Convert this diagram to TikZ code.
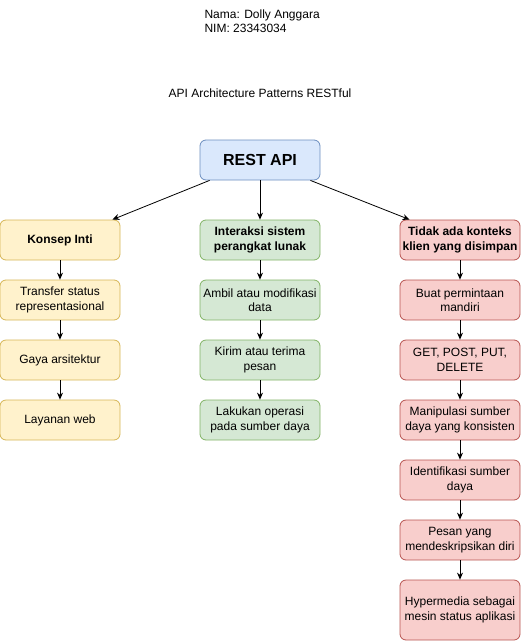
\documentclass[tikz,border=0pt]{standalone}
\usepackage{fontspec}
\setmainfont{Liberation Sans}
\usetikzlibrary{arrows.meta}
\definecolor{ylwfill}{HTML}{FFF2CC}
\definecolor{ylwline}{HTML}{D6B656}
\definecolor{grnfill}{HTML}{D5E8D4}
\definecolor{grnline}{HTML}{82B366}
\definecolor{redfill}{HTML}{F8CECC}
\definecolor{redline}{HTML}{B85450}
\definecolor{blufill}{HTML}{DAE8FC}
\definecolor{bluline}{HTML}{6C8EBF}
\begin{document}
\begin{tikzpicture}[x=1pt,y=-1pt,
	box/.style={rounded corners=6pt,line width=0.8pt,minimum width=120pt,minimum height=40pt,
		align=center,inner sep=1pt,font=\fontsize{12}{14.5}\selectfont},
	ylw/.style={box,draw=ylwline,fill=ylwfill},
	grn/.style={box,draw=grnline,fill=grnfill},
	red/.style={box,draw=redline,fill=redfill},
	arr/.style={-{Stealth[length=7pt,width=6pt]},line width=0.8pt}]
	\useasboundingbox (0,0) rectangle (522,641);
	\node[anchor=west,align=left,font=\fontsize{12}{14}\selectfont] (nama) at (201,21) {Nama: Dolly Anggara\\NIM: 23343034};
	\node[font=\fontsize{12}{14}\selectfont] (judul) at (260,93) {API Architecture Patterns RESTful};
	\node[box,draw=bluline,fill=blufill,font=\fontsize{16}{18}\selectfont\bfseries] (rest) at (260,160) {REST API};
	% kolom kiri
	\node[ylw,font=\fontsize{12}{14.5}\selectfont\bfseries] (k0) at (60,240) {Konsep Inti};
	\node[ylw] (k1) at (60,300) {Transfer status\\representasional};
	\node[ylw] (k2) at (60,360) {Gaya arsitektur};
	\node[ylw] (k3) at (60,420) {Layanan web};
	% kolom tengah
	\node[grn,font=\fontsize{12}{14.5}\selectfont\bfseries] (i0) at (260,240) {Interaksi sistem\\perangkat lunak};
	\node[grn] (i1) at (260,300) {Ambil atau modifikasi\\data};
	\node[grn] (i2) at (260,360) {Kirim atau terima\\pesan};
	\node[grn] (i3) at (260,420) {Lakukan operasi\\pada sumber daya};
	% kolom kanan
	\node[red,font=\fontsize{12}{14.5}\selectfont\bfseries] (t0) at (460,240) {Tidak ada konteks\\klien yang disimpan};
	\node[red] (t1) at (460,300) {Buat permintaan\\mandiri};
	\node[red] (t2) at (460,360) {GET, POST, PUT,\\DELETE};
	\node[red] (t3) at (460,420) {Manipulasi sumber\\daya yang konsisten};
	\node[red] (t4) at (460,480) {Identifikasi sumber\\daya};
	\node[red] (t5) at (460,540) {Pesan yang\\mendeskripsikan diri};
	\node[red,minimum height=60pt] (t6) at (460,610) {Hypermedia sebagai\\mesin status aplikasi};
	\draw[arr] (rest.south west)++(10,0) -- ([xshift=-8pt]k0.north east);
	\draw[arr] (rest) -- (i0);
	\draw[arr] (rest.south east)++(-10,0) -- ([xshift=10pt]t0.north west);
	\foreach \a/\b in {k0/k1,k1/k2,k2/k3,i0/i1,i1/i2,i2/i3,t0/t1,t1/t2,t2/t3,t3/t4,t4/t5,t5/t6}
	\draw[arr] (\a) -- (\b);
\end{tikzpicture}
\end{document}
